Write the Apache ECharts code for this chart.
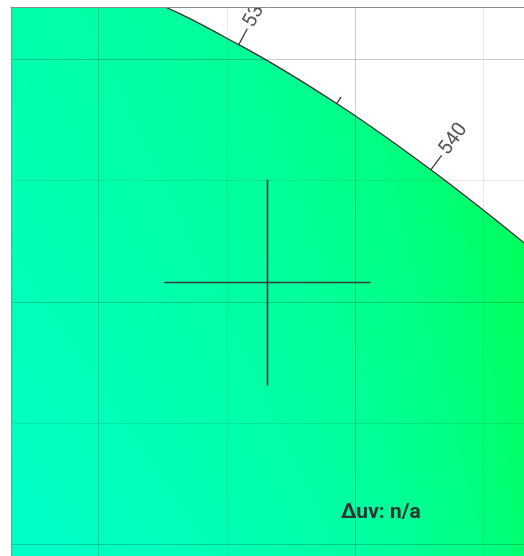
<!DOCTYPE html>
<html><head><meta charset="utf-8">
<script src="https://cdn.jsdelivr.net/npm/echarts@6/dist/echarts.min.js"></script>
<style>html,body{margin:0;padding:0;background:#fff;overflow:hidden}#c{width:524px;height:556px}</style>
</head><body><div id="c"></div>
<script>
// CIE 1931 2° spectral locus (wavelength nm, x, y)
const locusNm = [500, 505, 510, 515, 520, 525, 530, 535, 540, 545, 550, 555, 560];
const locusX  = [0.0082, 0.0039, 0.0139, 0.0389, 0.0743, 0.1142, 0.1547, 0.1929, 0.2296, 0.2658, 0.3016, 0.3373, 0.3731];
const locusY  = [0.5384, 0.6548, 0.7502, 0.8120, 0.8338, 0.8262, 0.8059, 0.7816, 0.7543, 0.7243, 0.6923, 0.6589, 0.6245];
// closing points of the gamut region (outside the visible window)
const closeX = [0.40, 0.00];
const closeY = [0.50, 0.50];
// wavelength ticks on the locus
const tickNm = [530, 535, 540];
const tickLabels = ['530', '', '540'];
// grid lines
const gridX = [0.10, 0.15, 0.20, 0.25];
const gridY = [0.60, 0.65, 0.70, 0.75, 0.80];
// visible window
const xRange = [0.0659, 0.2659];
const yRange = [0.5951, 0.8214];
// measured chromaticity point
const targetPoint = [0.1657, 0.7080];
const duvText = 'Δuv: n/a';

const chart = echarts.init(document.getElementById('c'), null, {renderer: 'canvas'});
let fillStyle = '#00ffa0';

const polyX = locusX.concat(closeX);
const polyY = locusY.concat(closeY);

function buildOption() {
  return {
    animation: false,
    grid: {left: 11, top: 7, width: 516, height: 550, show: false},
    xAxis: {type: 'value', min: xRange[0], max: xRange[1], position: 'top', z: 10,
      axisLine: {show: true, lineStyle: {color: '#8a8a8a', width: 1}},
      axisTick: {show: false}, axisLabel: {show: false}, splitLine: {show: false}},
    yAxis: {type: 'value', min: yRange[0], max: yRange[1], z: 10,
      axisLine: {show: true, lineStyle: {color: '#8a8a8a', width: 1}},
      axisTick: {show: false}, axisLabel: {show: false}, splitLine: {show: false}},
    graphic: [{type: 'text', left: 341, top: 502, z: 20,
      style: {text: duvText, fill: '#333', font: 'bold 21px Roboto'}}],
    series: [
      {id: 'fill', type: 'custom', coordinateSystem: 'cartesian2d', clip: true, z: 1, silent: true,
        data: [[polyX[0], polyY[0]]],
        renderItem: function (params, api) {
          const pts = polyX.map((x, i) => api.coord([x, polyY[i]]));
          return {type: 'polygon', shape: {points: pts, smooth: 0.35}, style: {fill: fillStyle, stroke: null}};
        }},
      {id: 'grid', type: 'custom', coordinateSystem: 'cartesian2d', clip: true, z: 2, silent: true,
        data: gridX.map(v => [v, 0]).concat(gridY.map(v => [v, 1])),
        renderItem: function (params, api) {
          const v = api.value(0), kind = api.value(1);
          const major = Math.abs(v * 10 - Math.round(v * 10)) < 1e-6;
          let p1, p2;
          if (kind === 0) { p1 = api.coord([v, yRange[0]]); p2 = api.coord([v, yRange[1]]); const x = Math.round(p1[0]) + 0.5; p1[0] = x; p2[0] = x; }
          else { p1 = api.coord([xRange[0], v]); p2 = api.coord([xRange[1], v]); const y = Math.round(p1[1]) + 0.5; p1[1] = y; p2[1] = y; }
          return {type: 'line', shape: {x1: p1[0], y1: p1[1], x2: p2[0], y2: p2[1]},
            style: {stroke: major ? 'rgba(0,0,0,0.2)' : 'rgba(0,0,0,0.09)', lineWidth: 1}};
        }},
      {id: 'locus', type: 'custom', coordinateSystem: 'cartesian2d', clip: true, z: 3, silent: true,
        data: [[polyX[0], polyY[0]]],
        renderItem: function (params, api) {
          const pts = polyX.map((x, i) => api.coord([x, polyY[i]]));
          return {type: 'polygon', shape: {points: pts, smooth: 0.35}, style: {fill: null, stroke: '#333', lineWidth: 1.2}};
        }},
      {id: 'ticks', type: 'custom', coordinateSystem: 'cartesian2d', clip: true, z: 4, silent: true,
        data: tickNm.map(nm => { const k = locusNm.indexOf(nm); return [locusX[k], locusY[k]]; }),
        renderItem: function (params, api) {
          const k = locusNm.indexOf(tickNm[params.dataIndex]);
          const p = api.coord([locusX[k], locusY[k]]);
          const a = api.coord([locusX[k - 1], locusY[k - 1]]);
          const b = api.coord([locusX[k + 1], locusY[k + 1]]);
          let tx = b[0] - a[0], ty = b[1] - a[1];
          const L = Math.hypot(tx, ty); tx /= L; ty /= L;
          const nx = ty, ny = -tx;
          const label = tickLabels[params.dataIndex];
          const len = label ? 18 : 8;
          const children = [{type: 'line', shape: {x1: p[0], y1: p[1], x2: p[0] + nx * len, y2: p[1] + ny * len},
            style: {stroke: '#333', lineWidth: 1.2}}];
          if (label) {
            children.push({type: 'text', x: p[0] + nx * (len + 3), y: p[1] + ny * (len + 3),
              rotation: Math.atan2(-ny, nx),
              style: {text: label, fill: '#555', font: '20px Roboto', align: 'left', verticalAlign: 'middle'}});
          }
          return {type: 'group', children: children};
        }},
      {id: 'cross', type: 'custom', coordinateSystem: 'cartesian2d', clip: true, z: 5, silent: true,
        data: [targetPoint],
        renderItem: function (params, api) {
          const c = api.coord([api.value(0), api.value(1)]);
          const cx = Math.round(c[0]) + 0.5, cy = Math.round(c[1]) + 0.5, h = 103;
          return {type: 'group', children: [
            {type: 'line', shape: {x1: cx - h, y1: cy, x2: cx + h, y2: cy}, style: {stroke: '#3c3c3c', lineWidth: 1.6}},
            {type: 'line', shape: {x1: cx, y1: cy - h, x2: cx, y2: cy + h}, style: {stroke: '#3c3c3c', lineWidth: 1.6}}
          ]};
        }}
    ]
  };
}

chart.setOption(buildOption());

// chromaticity colour field for the gamut fill
function srgb(c) { return c <= 0.0031308 ? 12.92 * c : 1.055 * Math.pow(c, 1 / 2.4) - 0.055; }
function xyColor(x, y) {
  const X = x / y, Y = 1, Z = (1 - x - y) / y;
  let r = 3.2406 * X - 1.5372 * Y - 0.4986 * Z;
  let g = -0.9689 * X + 1.8758 * Y + 0.0415 * Z;
  let b = 0.0557 * X - 0.2040 * Y + 1.0570 * Z;
  const m = Math.min(r, g, b);
  if (m < 0) { r -= m; g -= m; b -= m; }
  const M = Math.max(r, g, b);
  return [srgb(r / M), srgb(g / M), srgb(b / M)];
}
const W = 524, H = 556;
const d0 = chart.convertFromPixel({gridIndex: 0}, [0, 0]);
const d1 = chart.convertFromPixel({gridIndex: 0}, [W, H]);
const cv = document.createElement('canvas');
cv.width = W; cv.height = H;
const ctx = cv.getContext('2d');
const img = ctx.createImageData(W, H);
for (let py = 0; py < H; py++) {
  const y = d0[1] + (d1[1] - d0[1]) * (py + 0.5) / H;
  for (let px = 0; px < W; px++) {
    const x = d0[0] + (d1[0] - d0[0]) * (px + 0.5) / W;
    const c = xyColor(x, y);
    const o = (py * W + px) * 4;
    img.data[o] = Math.round(255 * Math.max(0, Math.min(1, c[0])));
    img.data[o + 1] = Math.round(255 * Math.max(0, Math.min(1, c[1])));
    img.data[o + 2] = Math.round(255 * Math.max(0, Math.min(1, c[2])));
    img.data[o + 3] = 255;
  }
}
ctx.putImageData(img, 0, 0);
fillStyle = {image: cv, repeat: 'no-repeat'};
chart.setOption(buildOption(), true);
</script>
</body></html>
